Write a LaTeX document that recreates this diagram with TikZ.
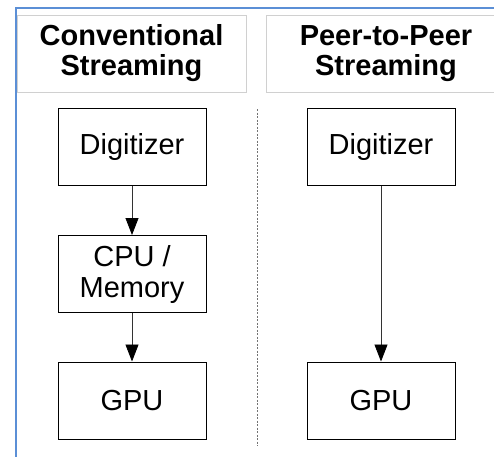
\documentclass[tikz,border=0pt]{standalone}
\usepackage{fontspec}
\setmainfont{Liberation Sans}
\usetikzlibrary{arrows.meta}
\definecolor{frameblue}{HTML}{5B8FD6}
\definecolor{titlegray}{HTML}{D0D0D0}
\tikzset{
  blk/.style={draw=black, line width=1pt, minimum width=148pt, minimum height=77pt, inner sep=0pt, align=center, font=\fontsize{29}{31}\selectfont},
  ttl/.style={draw=titlegray, line width=0.8pt, inner sep=0pt, align=center, font=\fontsize{29}{30}\selectfont\bfseries},
  flow/.style={draw=black!80, line width=0.8pt, -{Triangle[length=17pt,width=13pt,fill=black,color=black]}},
  divider/.style={draw=black!55, line width=0.8pt, dash pattern=on 2pt off 1.5pt}
}
\begin{document}
\begin{tikzpicture}[x=1pt,y=-1pt]
\useasboundingbox (0,0) rectangle (494,456);
\draw[frameblue, line width=1.5pt] (16,460) -- (16,8) -- (500,8);
\node[ttl, minimum width=229pt, minimum height=77pt] (t1) at (131.5,53.5) {Conventional\\Streaming};
\node[ttl, minimum width=240pt, minimum height=77pt] (t2) at (386,53.5) {Peer-to-Peer\\Streaming};
\node[blk] (d1) at (132,146.5) {Digitizer};
\node[blk] (c1) at (132,274) {CPU /\\Memory};
\node[blk] (g1) at (132,400.5) {GPU};
\node[blk] (d2) at (381,146.5) {Digitizer};
\node[blk] (g2) at (381,400.5) {GPU};
\coordinate (v1) at (257,109);
\coordinate (v2) at (257,446);
\draw[divider] (v1) -- (v2);
\draw[flow] (d1) -- (c1);
\draw[flow] (c1) -- (g1);
\draw[flow] (d2) -- (g2);
\end{tikzpicture}
\end{document}
